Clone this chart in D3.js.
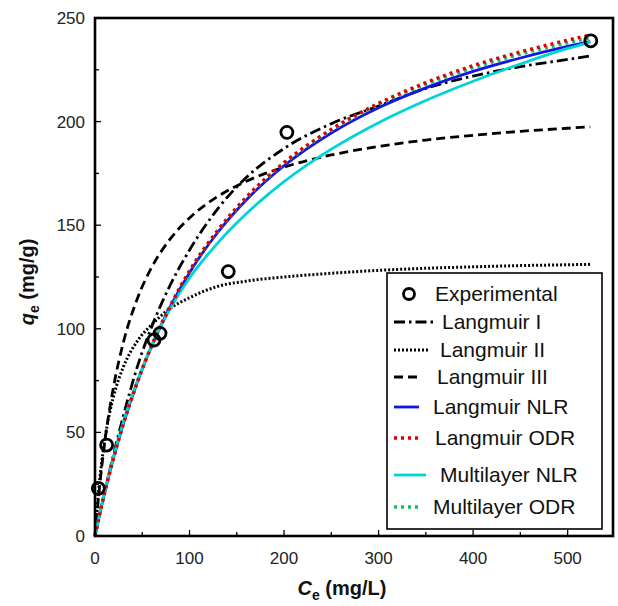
<!DOCTYPE html>
<html>
<head>
<meta charset="utf-8">
<title>Isotherm fits</title>
<script src="https://d3js.org/d3.v7.min.js"></script>
<style>
  body { margin: 0; background: #fff; }
  text { font-family: "Liberation Sans", Arial, sans-serif; fill: #111; }
</style>
</head>
<body>
<script>
// experimental points (Ce mg/L, qe mg/g)
let expC = [3.5, 12.3, 62.4, 68.8, 141, 203, 524.5];
let expQ = [23, 43.9, 94.6, 97.8, 127.6, 194.8, 239];

// fitted curves at these Ce values
let ceGrid    = [0, 5, 10, 20, 30, 45, 60, 80, 100, 130, 160, 200, 250, 300, 350, 400, 450, 500, 524];
let langI     = [0, 11, 21, 40, 58, 82, 101, 121.5, 138, 158, 173, 187, 199, 207.5, 216, 222, 226.5, 230, 231.7];
let langII    = [0, 27.2, 45.3, 68, 81.6, 94.2, 102, 110, 115, 120.5, 123, 125, 126.8, 128.2, 129.2, 129.9, 130.5, 130.9, 131.1];
let langIII   = [0, 24.6, 44.1, 73, 93.4, 114.8, 129.7, 143.6, 153.5, 163.9, 171.2, 178, 183.9, 188, 191.1, 193.4, 195.3, 196.8, 197.5];
let langNLR   = [0, 10.6, 20.5, 38.4, 54.1, 74.5, 91.7, 111, 127.1, 146.6, 162.2, 178.7, 194.5, 206.7, 216.3, 224.2, 230.7, 236.3, 238.6];
let langODR   = [0, 10.6, 20.4, 38.2, 54, 74.4, 91.8, 111.2, 128, 147.6, 163.5, 180.2, 196.3, 208.8, 218.8, 227, 233.6, 239.3, 241.8];
let multiNLR  = [0, 11, 21, 39, 55, 75, 92, 110, 124.5, 141.5, 155.5, 171, 186.7, 199.5, 210.2, 219.5, 227.8, 235.3, 238.4];
let multiODR  = [0, 10.7, 20.6, 38.5, 54.3, 74.7, 92, 111.5, 127.7, 147.4, 163.2, 179.8, 195.8, 208.2, 218, 225.9, 232.5, 238, 240.3];

let xTicks = [0, 100, 200, 300, 400, 500];
let yTicks = [0, 50, 100, 150, 200, 250];

let series = [
  { name: "Langmuir I",     q: langI,    color: "#000",    width: 2.8, dash: "11,4,2.5,4" },
  { name: "Langmuir II",    q: langII,   color: "#000",    width: 3,   dash: "2,2" },
  { name: "Langmuir III",   q: langIII,  color: "#000",    width: 2.8, dash: "9,5" },
  { name: "Langmuir NLR",   q: langNLR,  color: "#1414e6", width: 2.8, dash: null },
  { name: "Multilayer NLR", q: multiNLR, color: "#00d4d8", width: 2.8, dash: null },
  { name: "Multilayer ODR", q: multiODR, color: "#16c063", width: 3.4, dash: "3,4" },
  { name: "Langmuir ODR",   q: langODR,  color: "#e00000", width: 3.4, dash: "3,4" }
];

let width = 618, height = 606;
let svg = d3.select("body").append("svg")
    .attr("width", width)
    .attr("height", height);

let x = d3.scaleLinear().domain([0, 548]).range([95, 613]);
let y = d3.scaleLinear().domain([0, 250]).range([536, 18]);

// ticks (inside the frame)
let ax = svg.append("g");
ax.selectAll(".xt")
  .data(d3.range(0, 550, 50))
  .join("line")
    .attr("x1", d => x(d)).attr("x2", d => x(d))
    .attr("y1", y(0)).attr("y2", d => y(0) - (d % 100 === 0 ? 6 : 4))
    .attr("stroke", "#000").attr("stroke-width", 1.3);
ax.selectAll(".yt")
  .data(d3.range(0, 251, 25))
  .join("line")
    .attr("y1", d => y(d)).attr("y2", d => y(d))
    .attr("x1", x(0)).attr("x2", d => x(0) + (d % 50 === 0 ? 6 : 4))
    .attr("stroke", "#000").attr("stroke-width", 1.3);

ax.selectAll(".xl")
  .data(xTicks)
  .join("text")
    .attr("x", d => x(d))
    .attr("y", 564)
    .attr("text-anchor", "middle")
    .style("font-size", "17px")
    .style("fill", "#222")
    .text(d => d);
ax.selectAll(".yl")
  .data(yTicks)
  .join("text")
    .attr("x", 85)
    .attr("y", d => y(d) + 6)
    .attr("text-anchor", "end")
    .style("font-size", "17px")
    .style("fill", "#222")
    .text(d => d);

// axis titles
let xt = svg.append("text")
    .attr("x", 342).attr("y", 595)
    .attr("text-anchor", "middle")
    .style("font-size", "20px").style("font-weight", "bold");
xt.append("tspan").style("font-style", "italic").text("C");
xt.append("tspan").attr("dy", 5).style("font-size", "14px").text("e");
xt.append("tspan").attr("dy", -5).text(" (mg/L)");

let yt = svg.append("text")
    .attr("transform", "translate(34,282) rotate(-90)")
    .attr("text-anchor", "middle")
    .style("font-size", "20px").style("font-weight", "bold");
yt.append("tspan").style("font-style", "italic").text("q");
yt.append("tspan").attr("dy", 5).style("font-size", "14px").text("e");
yt.append("tspan").attr("dy", -5).text(" (mg/g)");

// curves
let line = d3.line()
    .x((d, i) => x(ceGrid[i]))
    .y(d => y(d))
    .curve(d3.curveMonotoneX);

svg.append("g")
  .selectAll("path")
  .data(series)
  .join("path")
    .attr("d", d => line(d.q))
    .attr("fill", "none")
    .attr("stroke", d => d.color)
    .attr("stroke-width", d => d.width)
    .attr("stroke-dasharray", d => d.dash);

// experimental points
svg.append("g")
  .selectAll("circle")
  .data(expC)
  .join("circle")
    .attr("cx", d => x(d))
    .attr("cy", (d, i) => y(expQ[i]))
    .attr("r", 6)
    .attr("fill", "none")
    .attr("stroke", "#000")
    .attr("stroke-width", 2.8);

// frame
svg.append("rect")
    .attr("x", 95).attr("y", 18)
    .attr("width", 613 - 95).attr("height", 536 - 18)
    .attr("fill", "none")
    .attr("stroke", "#000")
    .attr("stroke-width", 2.6);

// legend
let legendRows = [
  { name: "Experimental",   y: 294, tx: 435, x2: 0 },
  { name: "Langmuir I",     y: 322, tx: 442, x2: 433 },
  { name: "Langmuir II",    y: 350, tx: 440, x2: 430 },
  { name: "Langmuir III",   y: 377, tx: 437, x2: 422 },
  { name: "Langmuir NLR",   y: 407, tx: 433, x2: 419 },
  { name: "Langmuir ODR",   y: 438, tx: 435, x2: 419 },
  { name: "Multilayer NLR", y: 475, tx: 440, x2: 426 },
  { name: "Multilayer ODR", y: 507, tx: 433, x2: 418 }
];

let lg = svg.append("g");
lg.append("rect")
    .attr("x", 387).attr("y", 273)
    .attr("width", 602 - 387).attr("height", 529 - 273)
    .attr("fill", "#fff")
    .attr("stroke", "#000")
    .attr("stroke-width", 1.6);

legendRows.forEach(r => {
  let s = series.find(d => d.name === r.name);
  if (s) {
    lg.append("line")
      .attr("x1", 394).attr("x2", r.x2)
      .attr("y1", r.y).attr("y2", r.y)
      .attr("stroke", s.color)
      .attr("stroke-width", s.width)
      .attr("stroke-dasharray", s.dash);
  } else {
    lg.append("circle")
      .attr("cx", 409).attr("cy", r.y).attr("r", 5.5)
      .attr("fill", "none").attr("stroke", "#000").attr("stroke-width", 2.8);
  }
  lg.append("text")
    .attr("x", r.tx).attr("y", r.y + 7)
    .style("font-size", "21px")
    .text(r.name);
});
</script>
</body>
</html>
